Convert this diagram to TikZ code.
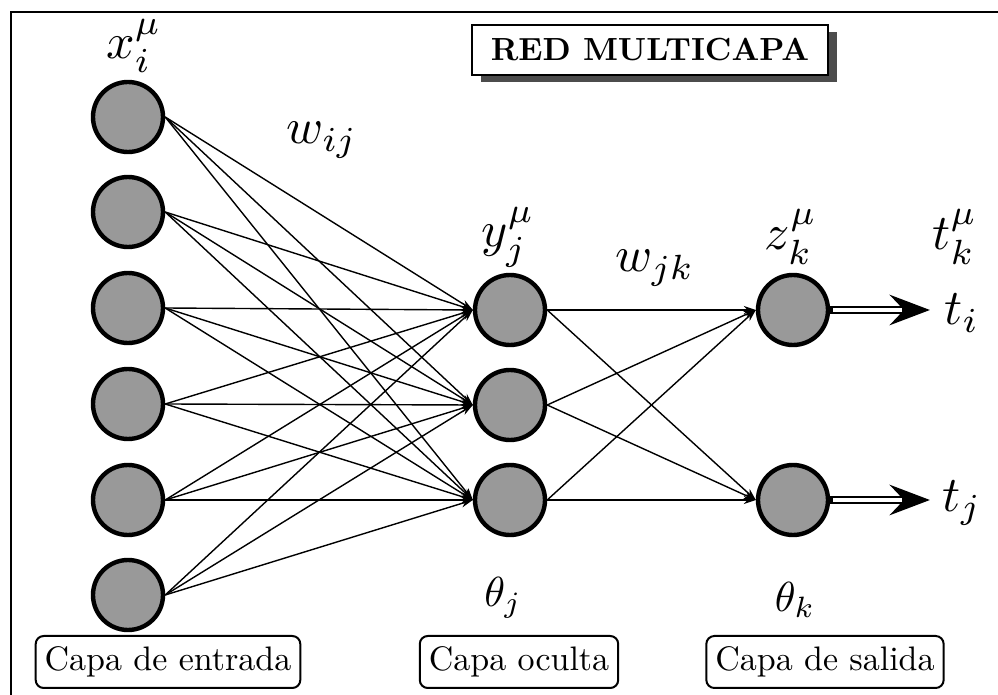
\documentclass[tikz,border=0pt]{standalone}
\usetikzlibrary{arrows.meta,shadows,calc}
\newcommand{\lblbig}[1]{\scalebox{2.5}{$#1$}}
\newcommand{\lblmed}[1]{\scalebox{2.1}{$#1$}}
\newcommand{\lblbox}[1]{\scalebox{1.7}{#1}}
\begin{document}
\begin{tikzpicture}[x=0.5pt,y=-0.5pt,
  neuron/.style={circle, draw=black, line width=2.2pt, fill=gray!80, minimum size=35pt, inner sep=0pt},
  conn/.style={line width=0.7pt, -{Stealth[length=6pt,width=4pt]}},
  layerbox/.style={draw, rounded corners=4pt, line width=1pt, inner xsep=4.5pt, minimum height=26pt},
]
\useasboundingbox (0,0) rectangle (998,695);
% frame (cropped at right and bottom)
\draw[line width=1.3pt] (11,700) -- (11,12) -- (1005,12);

% title
\node[draw, line width=1pt, fill=white, minimum width=178pt, minimum height=25pt,
  general shadow={fill=black!70, shadow xshift=4.5pt, shadow yshift=-3.5pt}] (title) at (650,50)
  {\scalebox{1.6}{\bfseries RED MULTICAPA}};

% input layer
\foreach \i/\y in {1/117,2/212,3/308,4/404,5/500,6/595}
  \node[neuron] (in\i) at (128,\y) {};
% hidden layer
\foreach \j/\y in {1/310,2/405,3/500}
  \node[neuron] (h\j) at (510,\y) {};
% output layer
\foreach \k/\y in {1/310,2/500}
  \node[neuron] (o\k) at (793,\y) {};

% connections
\foreach \i in {1,...,6}
  \foreach \j in {1,2,3}
    \draw[conn] (in\i.east) -- (h\j.west);
\foreach \j in {1,2,3}
  \foreach \k in {1,2}
    \draw[conn] (h\j.east) -- (o\k.west);

% output arrows
\coordinate (tip1) at (930,310);
\coordinate (tip2) at (930,500);
\coordinate (wend1) at (902,310);
\coordinate (wend2) at (902,500);
\foreach \k in {1,2}{
  \draw[line width=4pt, -{Stealth[length=20pt,width=15pt,inset=7pt]}] (o\k.east) -- (tip\k);
  \draw[white, line width=1.6pt] ($(o\k.east)+(3,0)$) -- (wend\k);
}

% labels
\node (lx) at (134,46) {\lblbig{x_i^{\mu}}};
\node (lwij) at (322,140) {\lblbig{w_{ij}}};
\node (ly) at (508,237) {\lblbig{y_j^{\mu}}};
\node (lwjk) at (655,268) {\lblbig{w_{jk}}};
\node (lz) at (791,237) {\lblbig{z_k^{\mu}}};
\node (lt) at (955,237) {\lblbig{t_k^{\mu}}};
\node (lti) at (962,313) {\lblbig{t_i}};
\node (ltj) at (962,503) {\lblbig{t_j}};
\node (thj) at (503,598) {\lblmed{\theta_j}};
\node (thk) at (795,600) {\lblmed{\theta_k}};

% layer boxes
\node[layerbox] (b1) at (168,662) {\lblbox{Capa de entrada}};
\node[layerbox] (b2) at (519,662) {\lblbox{Capa oculta}};
\node[layerbox] (b3) at (825,662) {\lblbox{Capa de salida}};
\end{tikzpicture}
\end{document}
